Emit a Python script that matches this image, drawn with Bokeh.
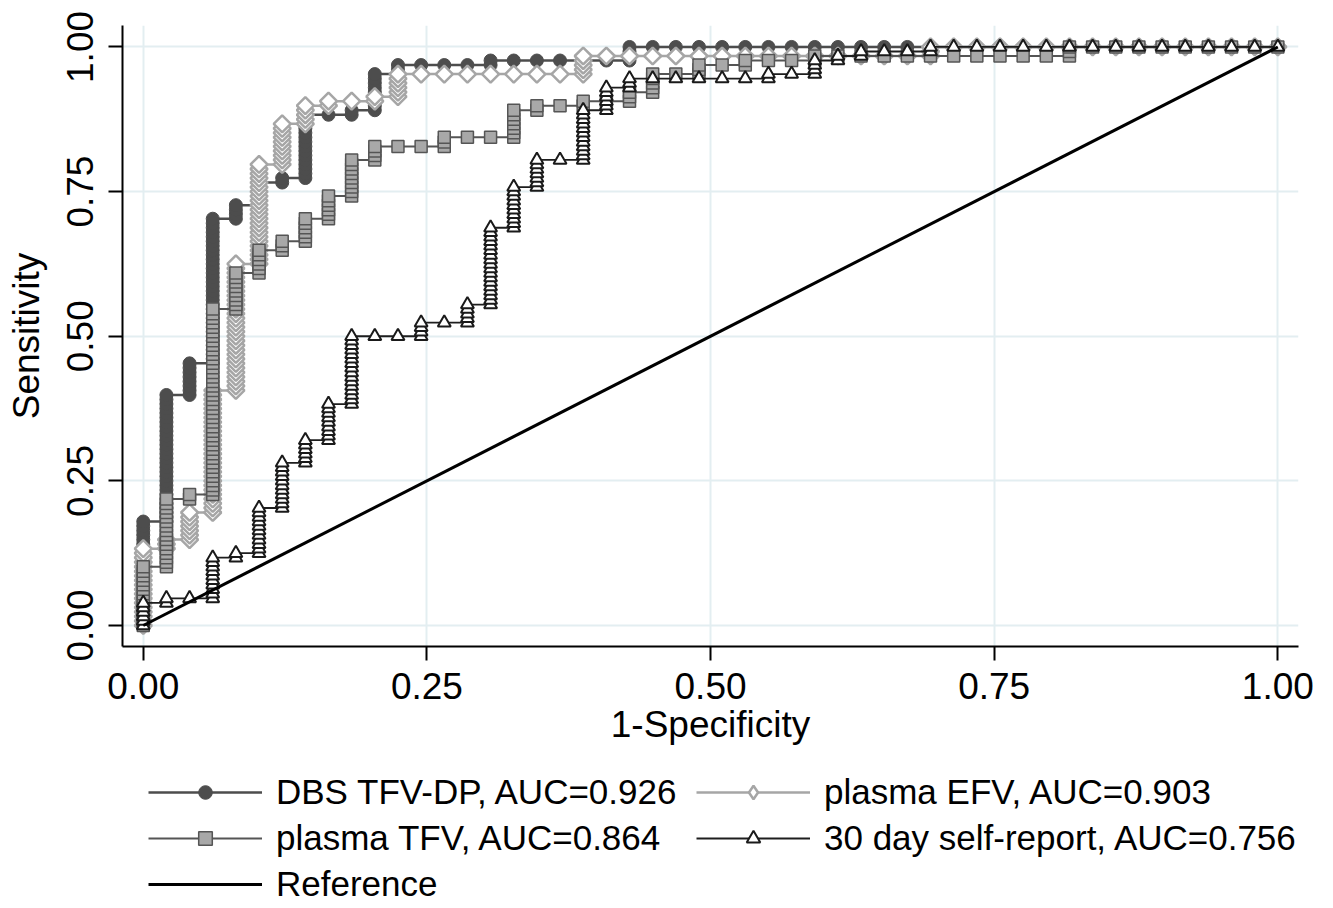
import math
from bokeh.plotting import figure
from bokeh.layouts import column
from bokeh.models import Range1d, FixedTicker, NumeralTickFormatter, Legend, LegendItem
from bokeh.embed import file_html
from bokeh.resources import INLINE

# ---------------- data ----------------
# ROC curves: 49 negatives (1-specificity step = 1/49), ~128 positives
N_NEG = 49
N_POS = 128
fp_counts = list(range(0, 50))   # false positives at each cut-off column

# true-positive count reached at the top of each fp column
dbs_tp_top = [23, 51, 58, 90, 93, 98, 99, 113, 113, 114,
              122, 124, 124, 124, 124, 125, 125, 125, 125, 125,
              125, 128, 128, 128, 128, 128, 128, 128, 128, 128,
              128, 128, 128, 128, 128, 128, 128, 128, 128, 128,
              128, 128, 128, 128, 128, 128, 128, 128, 128, 128]
efv_tp_top = [17, 19, 25, 52, 80, 102, 111, 115, 116, 116,
              117, 122, 122, 122, 122, 122, 122, 122, 122, 126,
              126, 126, 126, 126, 126, 126, 126, 126, 126, 126,
              126, 126, 126, 126, 128, 128, 128, 128, 128, 128,
              128, 128, 128, 128, 128, 128, 128, 128, 128, 128]
tfv_tp_top = [13, 28, 29, 70, 78, 83, 85, 90, 95, 103,
              106, 106, 106, 108, 108, 108, 114, 115, 115, 116,
              116, 118, 122, 122, 124, 124, 125, 125, 125, 126,
              126, 126, 126, 126, 126, 126, 126, 126, 126, 126,
              128, 128, 128, 128, 128, 128, 128, 128, 128, 128]
self_tp_top = [5, 6, 6, 15, 16, 26, 36, 41, 49, 64,
               64, 64, 67, 67, 71, 88, 97, 103, 103, 114,
               119, 121, 121, 121, 121, 121, 121, 122, 122, 125,
               126, 127, 127, 127, 128, 128, 128, 128, 128, 128,
               128, 128, 128, 128, 128, 128, 128, 128, 128, 128]
ref_x = [0.0, 1.0]
ref_y = [0.0, 1.0]

series_labels = ["DBS TFV-DP, AUC=0.926", "plasma EFV, AUC=0.903",
                 "plasma TFV, AUC=0.864", "30 day self-report, AUC=0.756",
                 "Reference"]
axis_ticks = [0.0, 0.25, 0.5, 0.75, 1.0]


def roc_points(tops):
    """One marker per positive case: each fp column holds the tp counts it spans."""
    xs, ys = [], []
    prev = 0
    for fp, top in zip(fp_counts, tops):
        for tp in range(prev, top + 1):
            xs.append(fp / N_NEG)
            ys.append(tp / N_POS)
        prev = top
    return xs, ys


FONT = "Liberation Sans"
W = 1322

STYLES = {
    "dbs_line": dict(line_color="#4d4d4d", line_width=2.5),
    "dbs_pts": dict(marker="circle", size=13, fill_color="#4d4d4d",
                    line_color="#4d4d4d", line_width=1),
    "efv_line": dict(line_color="#a6a6a6", line_width=2.5),
    "efv_pts": dict(marker="square", angle=math.pi / 4, size=12,
                    fill_color="white", line_color="#a6a6a6", line_width=2.5),
    "tfv_line": dict(line_color="#555555", line_width=2),
    "tfv_pts": dict(marker="square", size=12, fill_color="#a8a8a8",
                    line_color="#555555", line_width=1.5),
    "sr_line": dict(line_color="#1e1e1e", line_width=1.8),
    "sr_pts": dict(marker="triangle", size=13, fill_color="white",
                   line_color="#1a1a1a", line_width=2),
    "ref_line": dict(line_color="black", line_width=3),
}

p = figure(width=W, height=762,
           x_range=Range1d(-0.0183, 1.0182), y_range=Range1d(-0.0363, 1.0371),
           output_backend="svg", toolbar_location=None,
           min_border_left=122, min_border_right=24, min_border_top=25,
           min_border_bottom=116)
p.outline_line_color = None
p.background_fill_color = "white"
p.border_fill_color = "white"

for ax in (p.xaxis[0], p.yaxis[0]):
    ax.ticker = FixedTicker(ticks=axis_ticks)
    ax.formatter = NumeralTickFormatter(format="0.00")
    ax.major_tick_out = 14
    ax.major_tick_in = 0
    ax.minor_tick_line_color = None
    ax.axis_line_width = 2
    ax.axis_line_color = "black"
    ax.major_tick_line_width = 2
    ax.major_tick_line_color = "black"
    ax.major_label_text_font = FONT
    ax.major_label_text_font_size = "37px"
    ax.major_label_text_color = "black"
    ax.axis_label_text_font = FONT
    ax.axis_label_text_font_size = "37px"
    ax.axis_label_text_font_style = "normal"
    ax.axis_label_text_color = "black"

p.xaxis.axis_label = "1-Specificity"
p.yaxis.axis_label = "Sensitivity"
p.yaxis.major_label_orientation = "vertical"
p.xaxis.major_label_standoff = 12
p.xaxis.axis_label_standoff = 2
p.yaxis.major_label_standoff = 15
p.yaxis.axis_label_standoff = 18

p.grid.grid_line_color = "#e3eef1"
p.grid.grid_line_width = 2

dx, dy = roc_points(dbs_tp_top)
ex, ey = roc_points(efv_tp_top)
tx, ty = roc_points(tfv_tp_top)
sx, sy = roc_points(self_tp_top)

p.line(dx, dy, **STYLES["dbs_line"])
p.scatter(dx, dy, **STYLES["dbs_pts"])
p.line(ex, ey, **STYLES["efv_line"])
p.scatter(ex, ey, **STYLES["efv_pts"])
p.line(tx, ty, **STYLES["tfv_line"])
p.scatter(tx, ty, **STYLES["tfv_pts"])
p.line(sx, sy, **STYLES["sr_line"])
p.scatter(sx, sy, **STYLES["sr_pts"])
p.line(ref_x, ref_y, **STYLES["ref_line"])

# ---------------- legend panel (separate figure below the plot) ----------------
lg = figure(width=W, height=144, x_range=Range1d(0, 1), y_range=Range1d(0, 1),
            output_backend="svg", toolbar_location=None,
            x_axis_type=None, y_axis_type=None,
            min_border_left=0, min_border_right=0, min_border_top=0,
            min_border_bottom=0)
lg.outline_line_color = None
lg.grid.visible = False
lg.background_fill_color = "white"
lg.border_fill_color = "white"

off = [-10.0]  # legend keys only: placed outside this panel's ranges
efv_key = dict(STYLES["efv_pts"])
efv_key.update(marker="diamond", angle=0)
r_dbs = [lg.line(off, off, **STYLES["dbs_line"]), lg.scatter(off, off, **STYLES["dbs_pts"])]
r_efv = [lg.line(off, off, **STYLES["efv_line"]), lg.scatter(off, off, **efv_key)]
r_tfv = [lg.line(off, off, **STYLES["tfv_line"]), lg.scatter(off, off, **STYLES["tfv_pts"])]
r_sr = [lg.line(off, off, **STYLES["sr_line"]), lg.scatter(off, off, **STYLES["sr_pts"])]
r_ref = [lg.line(off, off, **STYLES["ref_line"])]

legend = Legend(items=[
    LegendItem(label=series_labels[0], renderers=r_dbs),
    LegendItem(label=series_labels[1], renderers=r_efv),
    LegendItem(label=series_labels[2], renderers=r_tfv),
    LegendItem(label=series_labels[3], renderers=r_sr),
    LegendItem(label=series_labels[4], renderers=r_ref),
])
legend.orientation = "horizontal"
legend.ncols = 2
legend.location = (26, 2)
legend.glyph_width = 114
legend.glyph_height = 34
legend.label_height = 34
legend.label_width = 414
legend.label_standoff = 14
legend.spacing = 6
legend.padding = 0
legend.margin = 0
legend.border_line_color = None
legend.background_fill_alpha = 0
legend.label_text_font = FONT
legend.label_text_font_size = "35px"
legend.label_text_color = "black"
lg.add_layout(legend, "center")

open("out.html", "w").write(file_html(column(p, lg, spacing=0), INLINE))
